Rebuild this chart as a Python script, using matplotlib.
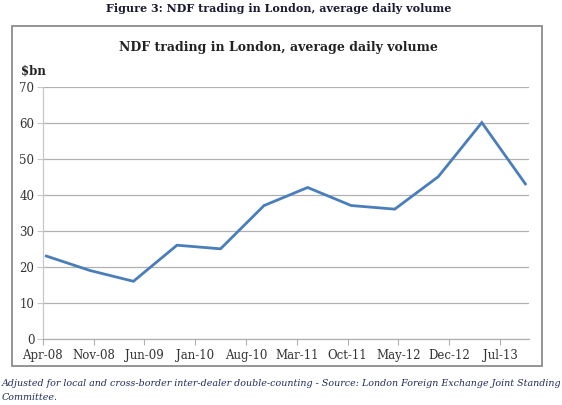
import matplotlib
matplotlib.use("Agg")
import matplotlib.pyplot as plt
from matplotlib.patches import Rectangle
from matplotlib.transforms import ScaledTranslation

# Data (semi-annual survey, $bn average daily volume)
dates = ["Apr-08", "Oct-08", "Apr-09", "Oct-09", "Apr-10", "Oct-10",
         "Apr-11", "Oct-11", "Apr-12", "Oct-12", "Apr-13", "Oct-13"]
values = [23, 19, 16, 26, 25, 37, 42, 37, 36, 45, 60, 43]
tick_labels = ["Apr-08", "Nov-08", "Jun-09", "Jan-10", "Aug-10",
               "Mar-11", "Oct-11", "May-12", "Dec-12", "Jul-13"]
y_ticks = [0, 10, 20, 30, 40, 50, 60, 70]

MONTHS = ["Jan", "Feb", "Mar", "Apr", "May", "Jun", "Jul", "Aug", "Sep", "Oct", "Nov", "Dec"]

def month_index(s):
    m, y = s.split("-")
    return (2000 + int(y)) * 12 + MONTHS.index(m) - ((2008) * 12 + 3)

x_pts = [month_index(d) + 0.5 for d in dates]
x_ticks = [month_index(t) for t in tick_labels]

plt.rcParams['font.family'] = ['DejaVu Serif']

fig = plt.figure(figsize=(5.62, 4.05), dpi=100)

# chart border box
fig.patches.append(Rectangle((12 / 562, 1 - 366 / 405), 530 / 562, 340 / 405,
                             transform=fig.transFigure, fill=False,
                             edgecolor="#8c8c8c", linewidth=1.3, zorder=0))

ax = fig.add_axes([42.7 / 562, 1 - 339 / 405, (529 - 42.7) / 562, (339 - 86.5) / 405])
ax.plot(x_pts, values, color="#4a7ebb", linewidth=2.0, solid_joinstyle="miter")

ax.set_xlim(0, 67)
ax.set_ylim(0, 70)
ax.set_yticks(y_ticks)
ax.set_yticklabels([str(v) for v in y_ticks])
ax.set_xticks(x_ticks)
ax.set_xticklabels(tick_labels)
for lab in ax.get_xticklabels():
    lab.set_transform(lab.get_transform() + ScaledTranslation(8 / 100, 0, fig.dpi_scale_trans))

ax.grid(axis="y", color="#b0b0b0", linewidth=0.9)
ax.set_axisbelow(True)
for s in ["top", "right"]:
    ax.spines[s].set_visible(False)
ax.spines["left"].set_color("#c8c8c8")
ax.spines["bottom"].set_color("#b0b0b0")
ax.spines["left"].set_linewidth(0.9)
ax.spines["bottom"].set_linewidth(0.9)
ax.tick_params(axis="y", length=4, color="#c8c8c8", labelsize=8.5, labelcolor="#333333", pad=2)
ax.tick_params(axis="x", length=4, color="#b0b0b0", labelsize=8.5, labelcolor="#333333", pad=3, direction="out")

fig.text(279 / 562, 1 - 8 / 405, "Figure 3: NDF trading in London, average daily volume",
         ha="center", va="center", fontsize=8.0, fontweight="bold", color="#1a1a33")
fig.text(278 / 562, 1 - 47 / 405, "NDF trading in London, average daily volume",
         ha="center", va="center", fontsize=9.0, fontweight="bold", color="#222222")
fig.text(21 / 562, 1 - 71 / 405, "$bn", ha="left", va="center", fontsize=8.5,
         fontweight="bold", color="#222222")
fig.text(2 / 562, 1 - 383 / 405,
         "Adjusted for local and cross-border inter-dealer double-counting - Source: London Foreign Exchange Joint Standing",
         ha="left", va="center", fontsize=6.85, style="italic", color="#1f2a5c")
fig.text(2 / 562, 1 - 397 / 405, "Committee.", ha="left", va="center", fontsize=6.85,
         style="italic", color="#1f2a5c")

fig.savefig("out.png", dpi=100)
